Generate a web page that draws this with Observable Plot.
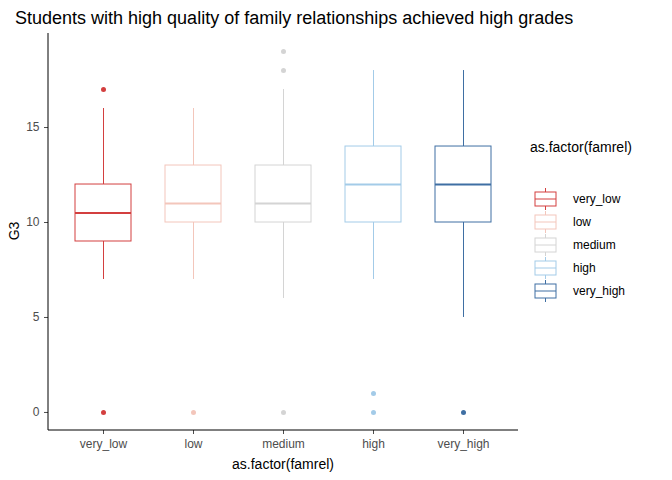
<!DOCTYPE html>
<html><head><meta charset="utf-8">
<script src="https://cdn.jsdelivr.net/npm/d3@7"></script>
<script src="https://cdn.jsdelivr.net/npm/@observablehq/plot@0.6"></script>
<style>body{margin:0;font-family:"Liberation Sans",Arial,sans-serif;background:#fff}#c{position:relative;width:672px;height:480px}</style>
</head><body><div id="c"></div>
<script>
const categories = ["very_low","low","medium","high","very_high"];
const colors = ["#d33f3f","#f3c6bb","#d4d4d4","#a3cbe8","#3f6fa3"];
const lowWhisker = [7,7,6,7,5];
const q1 = [9,10,10,10,10];
const median = [10.5,11,11,12,12];
const q3 = [12,13,13,14,14];
const highWhisker = [16,16,17,18,18];
const outlierCat = ["very_low","very_low","low","medium","medium","medium","high","high","very_high"];
const outlierVal = [17,0,0,19,18,0,1,0,0];
const yTicks = [0,5,10,15];

const colOf = c => colors[categories.indexOf(c)];
const boxes = categories.map((c,i)=>({c,col:colors[i],lo:lowWhisker[i],q1:q1[i],med:median[i],q3:q3[i],hi:highWhisker[i]}));
const outs = outlierCat.map((c,i)=>({c,col:colOf(c),v:outlierVal[i]}));
const plot = Plot.plot({
  width:672,height:480,marginLeft:48,marginRight:154,marginTop:33,marginBottom:50,
  style:{fontFamily:"Liberation Sans, Arial, sans-serif",fontSize:"12px",color:"#4d4d4d"},
  x:{domain:categories,paddingInner:0,paddingOuter:0.111,label:null,tickSize:4},
  y:{domain:[-0.95,19.95],ticks:yTicks,label:null,tickSize:4},
  marks:[
    Plot.ruleX(boxes,{x:"c",y1:"lo",y2:"q1",stroke:"col"}),
    Plot.ruleX(boxes,{x:"c",y1:"q3",y2:"hi",stroke:"col"}),
    Plot.rectY(boxes,{x:"c",y1:"q1",y2:"q3",fill:"white",stroke:"col",insetLeft:17,insetRight:17}),
    Plot.tickY(boxes,{x:"c",y:"med",stroke:"col",strokeWidth:2,insetLeft:17,insetRight:17}),
    Plot.dot(outs,{x:"c",y:"v",fill:"col",r:2.5})
  ]
});
const svg=d3.select(plot);
svg.selectAll("[aria-label$='axis'] text").attr("fill","#4d4d4d");
svg.append("line").attr("x1",48).attr("x2",48).attr("y1",33).attr("y2",430).attr("stroke","black");
svg.append("line").attr("x1",48).attr("x2",518).attr("y1",430).attr("y2",430).attr("stroke","black");
svg.append("text").attr("x",283).attr("y",469).attr("text-anchor","middle").attr("font-size",14).attr("fill","black").text("as.factor(famrel)");
svg.append("text").attr("transform","translate(19,231) rotate(-90)").attr("text-anchor","middle").attr("font-size",14).attr("fill","black").text("G3");
svg.append("text").attr("x",15).attr("y",24).attr("text-anchor","start").attr("font-size",18).attr("fill","black").text("Students with high quality of family relationships achieved high grades");
const lg=svg.append("g").attr("text-anchor","start");
lg.append("text").attr("x",530).attr("y",152).attr("font-size",14).attr("fill","black").text("as.factor(famrel)");
categories.forEach((c,i)=>{
  const y=199+i*23;
  const g=lg.append("g").attr("stroke",colors[i]).attr("fill","none");
  g.append("line").attr("x1",545.5).attr("x2",545.5).attr("y1",y-11).attr("y2",y+11);
  g.append("rect").attr("x",535).attr("y",y-7).attr("width",21).attr("height",14).attr("fill","white");
  g.append("line").attr("x1",535).attr("x2",556).attr("y1",y).attr("y2",y);
  lg.append("text").attr("x",573).attr("y",y+4).attr("font-size",12).attr("fill","black").text(c);
});
document.getElementById("c").appendChild(plot);
</script></body></html>
